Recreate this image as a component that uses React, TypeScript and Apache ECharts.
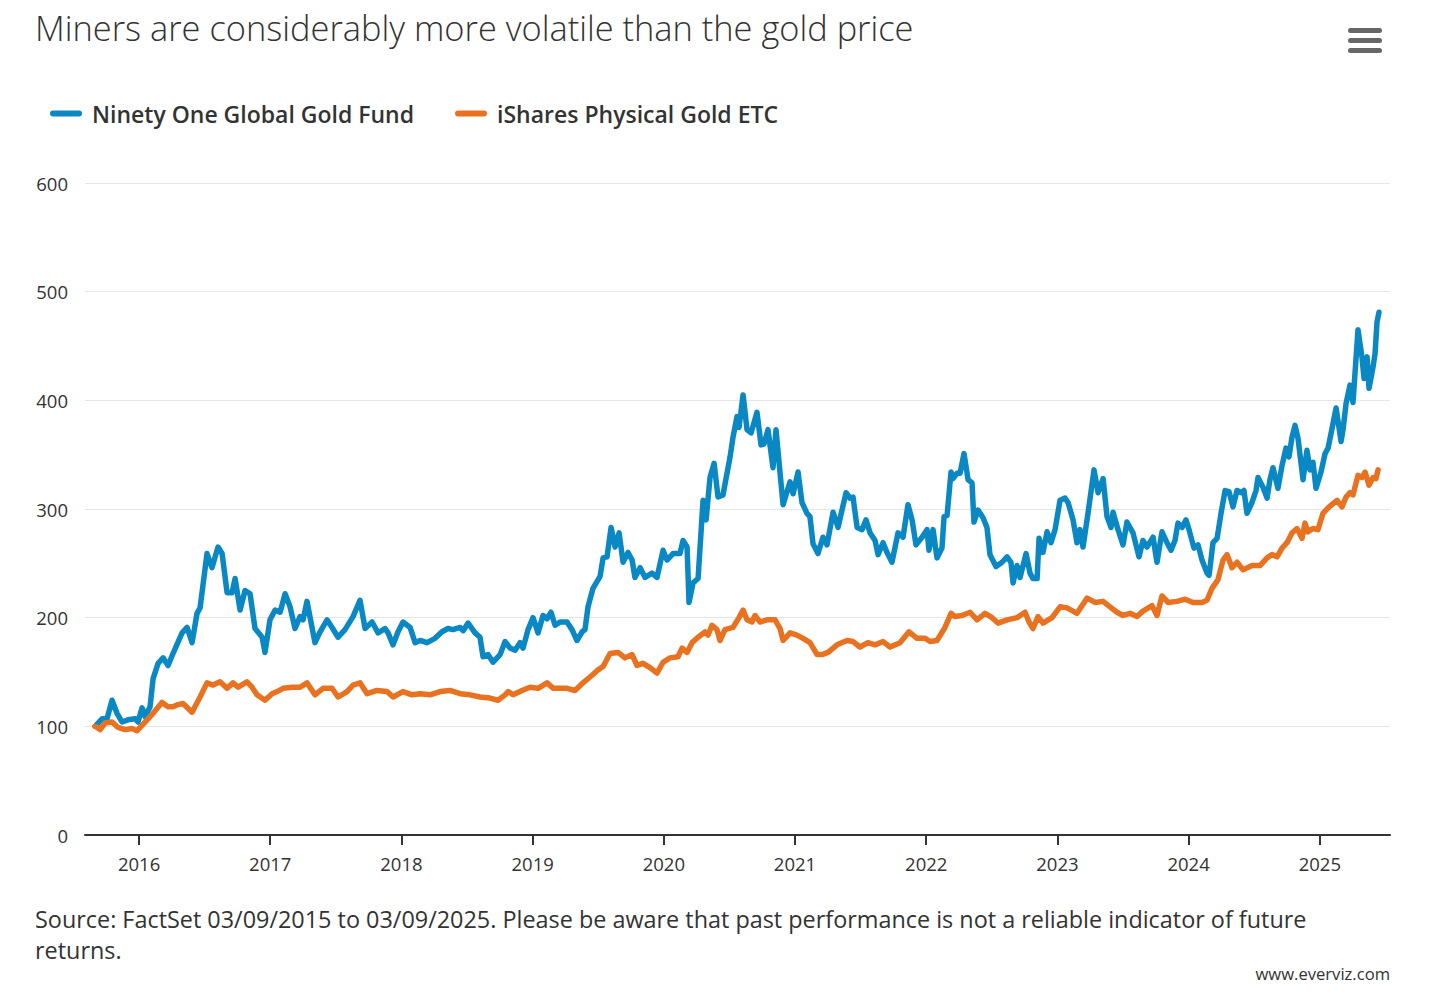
import { useEffect, useRef } from 'react';
import * as echarts from 'echarts';

// x values are decimal years, y values are indexed performance (start = 100)
const fundName = 'Ninety One Global Gold Fund';
const goldName = 'iShares Physical Gold ETC';

const fundSeries: [number, number][] = [
  [2015.665, 100], [2015.688, 103], [2015.718, 107], [2015.756, 107], [2015.794, 124], [2015.832, 112],
  [2015.870, 104], [2015.916, 106], [2015.970, 107], [2015.992, 104], [2016.023, 117], [2016.046, 109],
  [2016.084, 118], [2016.107, 144], [2016.145, 158], [2016.183, 163], [2016.221, 156], [2016.259, 167],
  [2016.328, 186], [2016.366, 191], [2016.404, 177], [2016.442, 204], [2016.465, 209], [2016.518, 259],
  [2016.556, 246], [2016.602, 265], [2016.633, 259], [2016.671, 223], [2016.709, 223], [2016.732, 236],
  [2016.770, 207], [2016.808, 225], [2016.846, 222], [2016.884, 190], [2016.938, 182], [2016.960, 168],
  [2016.998, 198], [2017.037, 207], [2017.075, 205], [2017.113, 222], [2017.151, 210], [2017.189, 190],
  [2017.227, 201], [2017.250, 198], [2017.280, 215], [2017.341, 177], [2017.380, 187], [2017.433, 198],
  [2017.471, 191], [2017.517, 182], [2017.570, 189], [2017.631, 201], [2017.684, 216], [2017.723, 190],
  [2017.776, 196], [2017.822, 186], [2017.875, 190], [2017.898, 186], [2017.936, 175], [2017.974, 187],
  [2018.012, 196], [2018.066, 191], [2018.104, 177], [2018.142, 179], [2018.195, 177], [2018.256, 181],
  [2018.309, 187], [2018.355, 190], [2018.393, 189], [2018.447, 191], [2018.470, 188], [2018.508, 195],
  [2018.561, 186], [2018.599, 182], [2018.622, 164], [2018.660, 166], [2018.698, 159], [2018.752, 166],
  [2018.790, 178], [2018.828, 172], [2018.866, 170], [2018.904, 177], [2018.927, 172], [2018.965, 189],
  [2019.003, 200], [2019.041, 186], [2019.079, 202], [2019.110, 199], [2019.140, 205], [2019.171, 193],
  [2019.209, 196], [2019.262, 196], [2019.300, 189], [2019.338, 179], [2019.377, 187], [2019.399, 189],
  [2019.422, 210], [2019.460, 227], [2019.514, 238], [2019.537, 255], [2019.567, 256], [2019.598, 283],
  [2019.628, 265], [2019.659, 278], [2019.689, 251], [2019.727, 260], [2019.758, 253], [2019.780, 237],
  [2019.819, 246], [2019.857, 237], [2019.910, 241], [2019.948, 237], [2019.994, 262], [2020.024, 253],
  [2020.070, 259], [2020.123, 259], [2020.146, 271], [2020.177, 265], [2020.192, 214], [2020.223, 232],
  [2020.261, 236], [2020.299, 308], [2020.322, 290], [2020.352, 329], [2020.383, 342], [2020.413, 311],
  [2020.451, 313], [2020.505, 348], [2020.527, 366], [2020.558, 385], [2020.573, 375], [2020.604, 405],
  [2020.634, 373], [2020.665, 370], [2020.710, 389], [2020.741, 359], [2020.764, 360], [2020.794, 373],
  [2020.832, 338], [2020.855, 373], [2020.886, 333], [2020.909, 304], [2020.962, 325], [2020.985, 314],
  [2021.023, 334], [2021.053, 306], [2021.091, 296], [2021.114, 293], [2021.137, 268], [2021.175, 259],
  [2021.213, 274], [2021.244, 267], [2021.290, 297], [2021.328, 283], [2021.358, 299], [2021.389, 315],
  [2021.419, 310], [2021.442, 311], [2021.473, 283], [2021.511, 281], [2021.541, 290], [2021.572, 278],
  [2021.610, 271], [2021.633, 258], [2021.671, 269], [2021.701, 260], [2021.739, 251], [2021.785, 278],
  [2021.823, 274], [2021.861, 304], [2021.892, 290], [2021.922, 267], [2021.968, 274], [2022.006, 281],
  [2022.021, 262], [2022.052, 281], [2022.082, 255], [2022.120, 264], [2022.136, 293], [2022.159, 294],
  [2022.189, 334], [2022.204, 328], [2022.235, 333], [2022.258, 333], [2022.288, 351], [2022.319, 327],
  [2022.349, 324], [2022.364, 288], [2022.395, 299], [2022.433, 292], [2022.463, 283], [2022.486, 258],
  [2022.532, 247], [2022.578, 251], [2022.616, 256], [2022.646, 251], [2022.662, 232], [2022.692, 248],
  [2022.715, 237], [2022.761, 259], [2022.791, 241], [2022.814, 236], [2022.845, 236], [2022.860, 273],
  [2022.890, 260], [2022.921, 279], [2022.951, 269], [2022.982, 281], [2023.020, 308], [2023.058, 310],
  [2023.081, 306], [2023.119, 290], [2023.149, 269], [2023.172, 281], [2023.195, 265], [2023.233, 296],
  [2023.279, 336], [2023.310, 315], [2023.348, 328], [2023.378, 293], [2023.409, 283], [2023.424, 297],
  [2023.462, 281], [2023.500, 267], [2023.530, 288], [2023.576, 278], [2023.622, 256], [2023.652, 271],
  [2023.683, 265], [2023.729, 274], [2023.759, 251], [2023.797, 279], [2023.835, 269], [2023.866, 262],
  [2023.896, 271], [2023.919, 287], [2023.950, 283], [2023.980, 290], [2024.003, 281], [2024.041, 264],
  [2024.072, 267], [2024.102, 253], [2024.140, 241], [2024.156, 239], [2024.186, 269], [2024.217, 273],
  [2024.247, 296], [2024.278, 317], [2024.308, 316], [2024.338, 302], [2024.369, 317], [2024.399, 315],
  [2024.422, 317], [2024.445, 296], [2024.483, 306], [2024.514, 317], [2024.529, 329], [2024.567, 320],
  [2024.598, 310], [2024.620, 327], [2024.643, 338], [2024.681, 319], [2024.712, 340], [2024.742, 356],
  [2024.765, 348], [2024.788, 366], [2024.811, 377], [2024.834, 365], [2024.872, 327], [2024.902, 354],
  [2024.925, 336], [2024.948, 343], [2024.971, 319], [2025.009, 334], [2025.040, 351], [2025.063, 356],
  [2025.093, 374], [2025.124, 393], [2025.162, 362], [2025.177, 373], [2025.200, 397], [2025.230, 414],
  [2025.253, 398], [2025.291, 465], [2025.322, 439], [2025.337, 420], [2025.360, 440], [2025.375, 411],
  [2025.406, 431], [2025.421, 443], [2025.436, 472], [2025.451, 481],
];

const goldSeries: [number, number][] = [
  [2015.665, 100], [2015.680, 99], [2015.703, 97], [2015.741, 103], [2015.794, 104], [2015.840, 99],
  [2015.893, 97], [2015.947, 98], [2015.985, 96], [2016.008, 99], [2016.061, 106], [2016.107, 112],
  [2016.175, 122], [2016.221, 118], [2016.259, 118], [2016.297, 120], [2016.335, 121], [2016.404, 113],
  [2016.465, 127], [2016.518, 140], [2016.564, 138], [2016.617, 141], [2016.671, 135], [2016.716, 140],
  [2016.755, 136], [2016.823, 141], [2016.861, 136], [2016.899, 129], [2016.960, 124], [2017.014, 130],
  [2017.052, 132], [2017.098, 135], [2017.166, 136], [2017.227, 136], [2017.280, 140], [2017.341, 129],
  [2017.402, 135], [2017.471, 135], [2017.517, 127], [2017.585, 132], [2017.631, 138], [2017.684, 140],
  [2017.738, 130], [2017.814, 133], [2017.890, 132], [2017.936, 127], [2018.012, 132], [2018.081, 129],
  [2018.142, 130], [2018.218, 129], [2018.294, 132], [2018.370, 133], [2018.447, 130], [2018.523, 129],
  [2018.599, 127], [2018.675, 126], [2018.736, 124], [2018.790, 129], [2018.813, 132], [2018.851, 129],
  [2018.919, 133], [2018.980, 136], [2019.041, 135], [2019.110, 140], [2019.156, 135], [2019.209, 135],
  [2019.262, 135], [2019.323, 133], [2019.384, 140], [2019.453, 147], [2019.499, 152], [2019.537, 155],
  [2019.590, 167], [2019.651, 168], [2019.704, 163], [2019.758, 166], [2019.796, 156], [2019.841, 158],
  [2019.895, 154], [2019.948, 149], [2019.994, 159], [2020.047, 163], [2020.108, 164], [2020.139, 172],
  [2020.177, 168], [2020.215, 177], [2020.261, 182], [2020.314, 187], [2020.337, 184], [2020.367, 193],
  [2020.405, 189], [2020.428, 179], [2020.466, 189], [2020.527, 191], [2020.573, 200], [2020.604, 207],
  [2020.634, 198], [2020.672, 196], [2020.695, 202], [2020.733, 196], [2020.787, 198], [2020.848, 198],
  [2020.886, 190], [2020.909, 179], [2020.962, 186], [2021.015, 184], [2021.061, 181], [2021.114, 177],
  [2021.168, 166], [2021.206, 166], [2021.252, 168], [2021.320, 175], [2021.396, 179], [2021.442, 178],
  [2021.495, 173], [2021.556, 177], [2021.610, 175], [2021.671, 178], [2021.724, 173], [2021.800, 177],
  [2021.869, 187], [2021.930, 181], [2021.991, 181], [2022.029, 178], [2022.082, 179], [2022.143, 191],
  [2022.189, 204], [2022.220, 201], [2022.273, 202], [2022.334, 205], [2022.387, 198], [2022.448, 204],
  [2022.502, 200], [2022.547, 195], [2022.616, 198], [2022.692, 200], [2022.753, 205], [2022.784, 196],
  [2022.814, 190], [2022.852, 201], [2022.890, 195], [2022.959, 200], [2023.020, 210], [2023.073, 209],
  [2023.149, 204], [2023.226, 218], [2023.287, 214], [2023.348, 215], [2023.401, 210], [2023.454, 205],
  [2023.500, 202], [2023.553, 204], [2023.607, 201], [2023.652, 206], [2023.721, 211], [2023.759, 202],
  [2023.797, 220], [2023.843, 214], [2023.912, 215], [2023.973, 217], [2024.034, 214], [2024.102, 214],
  [2024.140, 216], [2024.178, 227], [2024.224, 235], [2024.262, 253], [2024.293, 258], [2024.331, 246],
  [2024.369, 251], [2024.415, 244], [2024.483, 248], [2024.544, 248], [2024.598, 255], [2024.636, 258],
  [2024.674, 256], [2024.712, 264], [2024.750, 269], [2024.788, 278], [2024.826, 282], [2024.864, 273],
  [2024.887, 287], [2024.910, 279], [2024.948, 282], [2024.986, 281], [2025.024, 296], [2025.063, 301],
  [2025.101, 305], [2025.131, 308], [2025.169, 302], [2025.200, 311], [2025.230, 315], [2025.253, 313],
  [2025.291, 331], [2025.322, 329], [2025.345, 334], [2025.375, 322], [2025.406, 329], [2025.428, 328],
  [2025.444, 336],
];

const yearTicks = [2016, 2017, 2018, 2019, 2020, 2021, 2022, 2023, 2024, 2025];
const xMin = 2015.588;
const xMax = 2025.535;

const titleText = 'Miners are considerably more volatile than the gold price';
const sourceText =
  'Source: FactSet 03/09/2015 to 03/09/2025. Please be aware that past performance is not a reliable indicator of future\nreturns.';
const creditText = 'www.everviz.com';

const FONT = '"Open Sans", Lato, "DejaVu Sans", sans-serif';
const BLUE = '#0a88c3';
const ORANGE = '#e8721f';
const TEXT = '#333333';

const capsule = 'path://M3,0L29,0A3,3,0,0,1,29,6L3,6A3,3,0,0,1,3,0Z';

export default function App() {
  const chartRef = useRef<HTMLDivElement>(null);

  useEffect(() => {
    document.body.style.margin = '0';
    if (!chartRef.current) return;
    const chart = echarts.init(chartRef.current, null, { renderer: 'svg' });

    const option: echarts.EChartsOption = {
      animation: false,
      backgroundColor: '#ffffff',
      textStyle: { fontFamily: FONT },
      grid: { left: 85, right: 54, top: 183, bottom: 159, containLabel: false },
      legend: {
        left: 50,
        top: 102,
        padding: 0,
        itemGap: 41,
        itemWidth: 32,
        itemHeight: 6,
        icon: capsule,
        selectedMode: false,
        textStyle: { fontFamily: FONT, fontSize: 23, fontWeight: 600, color: TEXT, padding: [0, 0, 0, 5] },
        data: [fundName, goldName],
      },
      xAxis: {
        type: 'value',
        min: xMin,
        max: xMax,
        axisLine: { show: true, lineStyle: { color: TEXT, width: 2 } },
        axisTick: { show: true, customValues: yearTicks, length: 10, lineStyle: { color: TEXT, width: 2 } },
        axisLabel: {
          customValues: yearTicks,
          formatter: (v: number) => String(Math.round(v)),
          margin: 19,
          fontSize: 18.5,
          color: TEXT,
          fontFamily: FONT,
        },
        splitLine: { show: false },
      },
      yAxis: {
        type: 'value',
        min: 0,
        max: 600,
        interval: 100,
        axisLine: { show: false },
        axisTick: { show: false },
        axisLabel: { margin: 17, fontSize: 18.5, color: TEXT, fontFamily: FONT },
        splitLine: { lineStyle: { color: '#e6e6e6', width: 1 } },
      },
      series: [
        {
          name: fundName,
          type: 'line',
          data: fundSeries,
          showSymbol: false,
          color: BLUE,
          lineStyle: { width: 5.5, color: BLUE, join: 'round', cap: 'round' },
          silent: true,
        },
        {
          name: goldName,
          type: 'line',
          data: goldSeries,
          showSymbol: false,
          color: ORANGE,
          lineStyle: { width: 5.5, color: ORANGE, join: 'round', cap: 'round' },
          silent: true,
        },
      ],
      graphic: [
        {
          type: 'text',
          left: 35,
          top: 10,
          style: { text: titleText, fontFamily: FONT, fontSize: 34.4, fontWeight: 300, fill: TEXT },
        },
        {
          type: 'group',
          left: 1348,
          top: 28,
          children: [0, 10, 20].map((dy) => ({
            type: 'rect',
            shape: { x: 0, y: dy, width: 34, height: 5, r: 2.5 },
            style: { fill: '#666666' },
          })),
        },
        {
          type: 'text',
          left: 35,
          top: 903,
          style: { text: sourceText, fontFamily: FONT, fontSize: 23.4, lineHeight: 31, fill: TEXT },
        },
        {
          type: 'text',
          right: 54,
          top: 965,
          style: { text: creditText, fontFamily: FONT, fontSize: 16.6, fill: TEXT },
        },
      ],
    };

    chart.setOption(option);
    return () => {
      chart.dispose();
    };
  }, []);

  return <div ref={chartRef} style={{ width: 1444, height: 994 }} />;
}
